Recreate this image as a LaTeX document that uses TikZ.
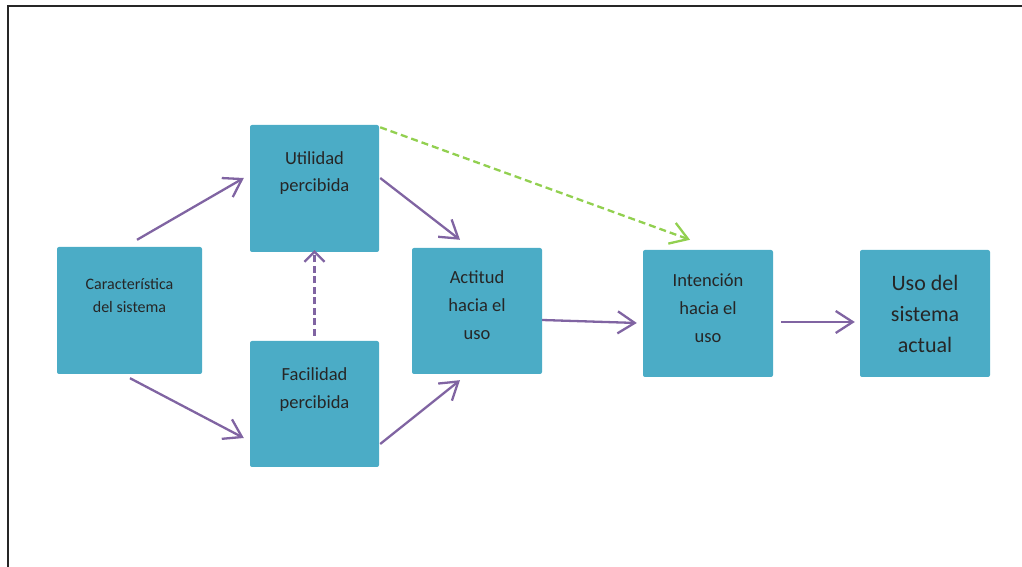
\documentclass[tikz,border=0pt]{standalone}
\usepackage{fontspec}
\setmainfont{Carlito}
\usetikzlibrary{arrows.meta}
\definecolor{turquesa}{HTML}{4BACC6}
\definecolor{morado}{HTML}{8064A2}
\definecolor{verde}{HTML}{92D050}
\begin{document}
\begin{tikzpicture}[x=1pt,y=1pt,
	caja/.style={fill=turquesa, rounded corners=2pt, inner sep=0pt},
	texto/.style={align=center, text=black!85, inner sep=0pt},
	flecha/.style={draw=morado, line width=2.3pt, -{Straight Barb[length=17pt,width=22pt]}}]
	\useasboundingbox (0,0) rectangle (1022,567);
	\draw[black!85, line width=1.3pt] (8,0) -- (8,561) -- (1022,561);
	\node[caja, minimum width=145, minimum height=127] (car) at (129.5,256.5) {};
	\node[caja, minimum width=129, minimum height=127] (util) at (314.5,378.5) {};
	\node[caja, minimum width=129, minimum height=126] (fac) at (314.5,163) {};
	\node[caja, minimum width=130, minimum height=126] (act) at (477,256) {};
	\node[caja, minimum width=130, minimum height=127] (int) at (708,253.5) {};
	\node[caja, minimum width=130, minimum height=127] (uso) at (925,253.5) {};
	\node[texto, font=\fontsize{16}{23}\selectfont] (car-t) at ([yshift=15]car.center) {Característica\\del sistema};
	\node[texto, font=\fontsize{18.5}{27}\selectfont] (util-t) at ([yshift=15]util.center) {Utilidad\\percibida};
	\node[texto, font=\fontsize{18.5}{28}\selectfont] (fac-t) at ([yshift=14]fac.center) {Facilidad\\percibida};
	\node[texto, font=\fontsize{18.5}{28}\selectfont] (act-t) at ([yshift=6]act.center) {Actitud\\hacia el\\uso};
	\node[texto, font=\fontsize{18.5}{28}\selectfont] (int-t) at ([yshift=5.5]int.center) {Intención\\hacia el\\uso};
	\node[texto, font=\fontsize{22}{31}\selectfont] (uso-t) at (uso.center) {Uso del\\sistema\\actual};
	\draw[flecha] ([shift={(7.5,7)}]car.north) -- ([shift={(-6,10.5)}]util.west);
	\draw[flecha] ([shift={(0.5,-4)}]car.south) -- ([shift={(-6,-34)}]fac.west);
	\draw[flecha, dash pattern=on 7pt off 3.5pt, -{Straight Barb[length=10pt,width=20pt]}] ([yshift=5]fac.north) -- ([yshift=2]util.south);
	\draw[flecha] ([shift={(1,10.5)}]util.east) -- ([shift={(-17,8)}]act.north);
	\draw[flecha] ([shift={(1,-40)}]fac.east) -- ([shift={(-17,-6)}]act.south);
	\draw[flecha] ([yshift=-9]act.east) -- ([shift={(-6,-9.5)}]int.west);
	\draw[flecha, draw=verde, dash pattern=on 7pt off 4pt] ([shift={(1,-2.5)}]util.north east) -- ([shift={(-18,10)}]int.north);
	\draw[flecha] ([shift={(8,-8.5)}]int.east) -- ([shift={(-5,-8.5)}]uso.west);
\end{tikzpicture}
\end{document}
